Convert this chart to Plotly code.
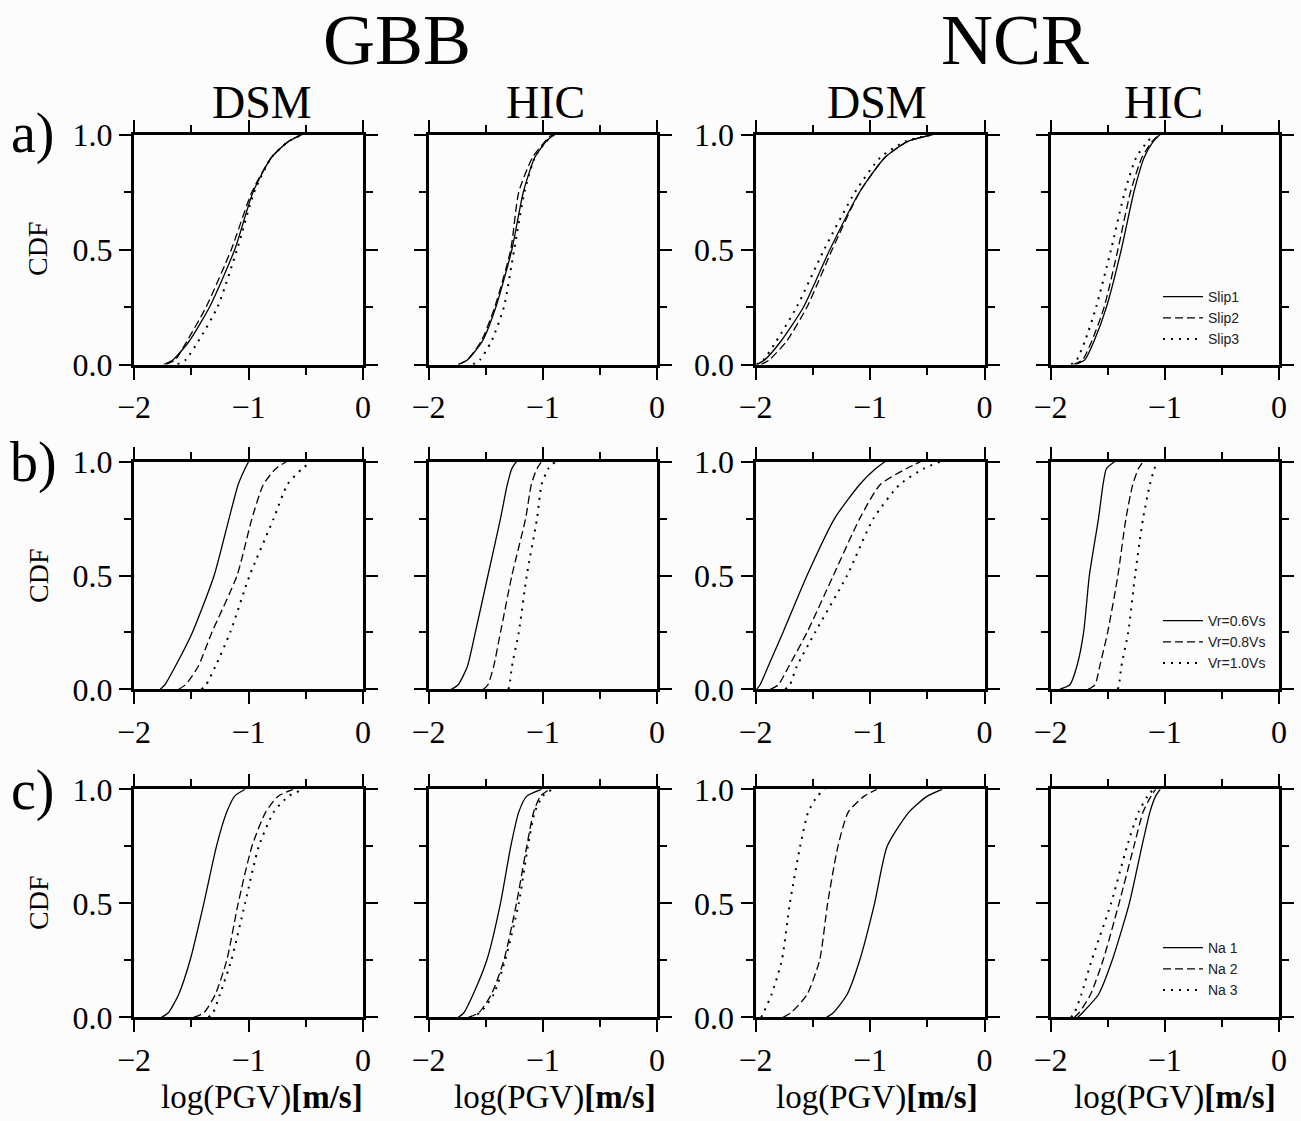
import plotly.graph_objects as go
from plotly.subplots import make_subplots

# ---------------- data ----------------
CDF_LEVELS = [0.0, 0.02, 0.1, 0.25, 0.5, 0.75, 0.9, 0.97, 1.0]

SITES = ["GBB", "NCR"]
METHODS = ["DSM", "HIC"]
ROW_LABELS = ["a)", "b)", "c)"]
X_TICKS = [-2, -1, 0]
X_TICK_TEXT = ["\u22122", "\u22121", "0"]
Y_TICKS = [0.0, 0.5, 1.0]
Y_TICK_TEXT = ["0.0", "0.5", "1.0"]
X_TITLE = "log(PGV)<b>[m/s]</b>"
Y_TITLE = "CDF"

SLIP_NAMES = ["Slip1", "Slip2", "Slip3"]
VR_NAMES = ["Vr=0.6Vs", "Vr=0.8Vs", "Vr=1.0Vs"]
NA_NAMES = ["Na 1", "Na 2", "Na 3"]

# log(PGV) values at each CDF level (row a: slip models)
slip_gbb_dsm = [
    [-1.74, -1.66, -1.52, -1.34, -1.12, -0.96, -0.80, -0.65, -0.53],
    [-1.72, -1.64, -1.54, -1.37, -1.15, -0.97, -0.80, -0.65, -0.53],
    [-1.62, -1.55, -1.44, -1.27, -1.10, -0.95, -0.80, -0.65, -0.53],
]
slip_gbb_hic = [
    [-1.74, -1.66, -1.53, -1.41, -1.27, -1.17, -1.07, -0.97, -0.90],
    [-1.74, -1.66, -1.54, -1.42, -1.28, -1.21, -1.09, -0.98, -0.92],
    [-1.61, -1.55, -1.45, -1.34, -1.25, -1.16, -1.07, -0.97, -0.90],
]
slip_ncr_dsm = [
    [-1.99, -1.92, -1.78, -1.58, -1.35, -1.09, -0.87, -0.67, -0.45],
    [-1.95, -1.88, -1.73, -1.55, -1.33, -1.09, -0.87, -0.67, -0.45],
    [-1.99, -1.93, -1.82, -1.64, -1.40, -1.13, -0.91, -0.69, -0.45],
]
slip_ncr_hic = [
    [-1.78, -1.70, -1.62, -1.51, -1.38, -1.27, -1.18, -1.10, -1.04],
    [-1.80, -1.72, -1.64, -1.53, -1.41, -1.30, -1.20, -1.11, -1.05],
    [-1.82, -1.77, -1.70, -1.60, -1.47, -1.35, -1.25, -1.15, -1.09],
]

# row b: rupture velocity
vr_gbb_dsm = [
    [-1.77, -1.73, -1.64, -1.49, -1.30, -1.17, -1.09, -1.03, -1.00],
    [-1.61, -1.55, -1.44, -1.32, -1.10, -0.97, -0.87, -0.76, -0.67],
    [-1.41, -1.37, -1.29, -1.16, -0.99, -0.78, -0.66, -0.53, -0.45],
]
vr_gbb_hic = [
    [-1.80, -1.74, -1.66, -1.59, -1.48, -1.37, -1.31, -1.27, -1.23],
    [-1.52, -1.48, -1.43, -1.37, -1.27, -1.15, -1.10, -1.05, -1.01],
    [-1.30, -1.29, -1.27, -1.21, -1.14, -1.05, -1.01, -0.95, -0.89],
]
vr_ncr_dsm = [
    [-1.99, -1.96, -1.89, -1.76, -1.55, -1.31, -1.09, -0.95, -0.87],
    [-1.87, -1.80, -1.71, -1.55, -1.32, -1.09, -0.91, -0.68, -0.56],
    [-1.74, -1.70, -1.64, -1.48, -1.20, -0.97, -0.74, -0.53, -0.39],
]
vr_ncr_hic = [
    [-1.92, -1.83, -1.77, -1.71, -1.66, -1.58, -1.54, -1.51, -1.44],
    [-1.67, -1.61, -1.57, -1.50, -1.41, -1.34, -1.28, -1.23, -1.19],
    [-1.41, -1.40, -1.38, -1.32, -1.26, -1.19, -1.13, -1.09, -1.06],
]

# row c: asperity number
na_gbb_dsm = [
    [-1.76, -1.70, -1.61, -1.51, -1.39, -1.28, -1.19, -1.12, -1.03],
    [-1.48, -1.39, -1.29, -1.19, -1.09, -0.97, -0.85, -0.74, -0.61],
    [-1.35, -1.31, -1.25, -1.15, -1.03, -0.91, -0.78, -0.65, -0.52],
]
na_gbb_hic = [
    [-1.74, -1.69, -1.61, -1.49, -1.37, -1.28, -1.21, -1.14, -1.01],
    [-1.65, -1.56, -1.45, -1.34, -1.23, -1.14, -1.08, -1.02, -0.94],
    [-1.64, -1.55, -1.43, -1.33, -1.21, -1.13, -1.07, -1.00, -0.92],
]
na_ncr_dsm = [
    [-1.38, -1.32, -1.20, -1.09, -0.96, -0.85, -0.66, -0.50, -0.37],
    [-1.76, -1.69, -1.55, -1.44, -1.37, -1.28, -1.19, -1.05, -0.94],
    [-1.95, -1.93, -1.86, -1.77, -1.70, -1.61, -1.54, -1.46, -1.39],
]
na_ncr_hic = [
    [-1.76, -1.72, -1.58, -1.46, -1.31, -1.20, -1.13, -1.08, -1.04],
    [-1.79, -1.75, -1.65, -1.54, -1.40, -1.27, -1.19, -1.12, -1.08],
    [-1.82, -1.79, -1.73, -1.64, -1.47, -1.33, -1.23, -1.15, -1.10],
]

ROWS = [
    (SLIP_NAMES, [slip_gbb_dsm, slip_gbb_hic, slip_ncr_dsm, slip_ncr_hic]),
    (VR_NAMES, [vr_gbb_dsm, vr_gbb_hic, vr_ncr_dsm, vr_ncr_hic]),
    (NA_NAMES, [na_gbb_dsm, na_gbb_hic, na_ncr_dsm, na_ncr_hic]),
]

# ---------------- layout ----------------
W, H = 1301, 1121
SERIF = "Liberation Serif, Times New Roman, serif"
SANS = "Liberation Sans, Arial, sans-serif"
BG = "#fcfcfc"

COL_PX = [(134, 363), (428.5, 657), (755.5, 984.5), (1050.5, 1279)]
ROW_PX = [(134.5, 364.5), (461.7, 689.3), (789.3, 1017.3)]
DASHES = ["solid", "8px,4px", "2px,6px"]
WIDTHS = [1.3, 1.3, 2.0]
LEGEND_IDS = ["legend", "legend2", "legend3"]
LEGEND_TOP_PX = [281, 605, 932]

fig = make_subplots(rows=3, cols=4)

for r, (names, panels) in enumerate(ROWS):
    for c, series in enumerate(panels):
        for k, xs in enumerate(series):
            fig.add_trace(
                go.Scatter(
                    x=xs, y=CDF_LEVELS, mode="lines", name=names[k],
                    line=dict(color="black", width=WIDTHS[k], dash=DASHES[k],
                              shape="spline", smoothing=0.6),
                    showlegend=(c == 3), legend=LEGEND_IDS[r],
                    hoverinfo="skip",
                ),
                row=r + 1, col=c + 1,
            )
        x0, x1 = COL_PX[c]
        y0, y1 = ROW_PX[r]
        fig.update_xaxes(
            domain=[x0 / W, x1 / W], range=[-2, 0], automargin=False,
            tickvals=X_TICKS, ticktext=X_TICK_TEXT,
            ticks="outside", ticklen=12, tickwidth=1.5, tickcolor="black",
            minor=dict(tickvals=[-1.5, -0.5], ticks="outside", ticklen=7,
                       tickwidth=1.5, tickcolor="black"),
            showline=True, linewidth=3, linecolor="black", mirror="ticks",
            showgrid=False, zeroline=False,
            tickfont=dict(family=SERIF, size=32, color="black"),
            row=r + 1, col=c + 1,
        )
        fig.update_yaxes(
            domain=[1 - y1 / H, 1 - y0 / H], range=[0, 1], automargin=False,
            tickvals=Y_TICKS, ticktext=Y_TICK_TEXT,
            showticklabels=(c % 2 == 0),
            ticks="outside", ticklen=12, tickwidth=1.5, tickcolor="black",
            minor=dict(tickvals=[0.25, 0.75], ticks="outside", ticklen=7,
                       tickwidth=1.5, tickcolor="black"),
            showline=True, linewidth=3, linecolor="black", mirror="ticks",
            showgrid=False, zeroline=False,
            tickfont=dict(family=SERIF, size=32, color="black"),
            row=r + 1, col=c + 1,
        )

annotations = []


def ann(text, px, py, size, **kw):
    annotations.append(dict(
        text=text, x=px / W, y=1 - py / H, xref="paper", yref="paper",
        showarrow=False, xanchor="center", yanchor="middle",
        font=dict(family=SERIF, size=size, color="black"), **kw))


# site titles
ann(SITES[0], 397, 40, 72)
ann(SITES[1], 1015, 40, 72)
# method titles
for c, cx in enumerate([262, 545, 877, 1163]):
    ann(METHODS[c % 2], cx, 103, 46)
# row labels and CDF
for r, (ly, cy) in enumerate([(133, 249), (463, 576), (790, 903)]):
    ann(ROW_LABELS[r], 33, ly, 56)
    ann(Y_TITLE, 38, cy, 28, textangle=-90)
# x titles
for cx in [262, 555, 877, 1175]:
    ann(X_TITLE, cx, 1097, 33)

layout_legends = {}
for r, lid in enumerate(LEGEND_IDS):
    layout_legends[lid] = dict(
        x=1158 / W, y=1 - LEGEND_TOP_PX[r] / H, xanchor="left", yanchor="top",
        bgcolor="rgba(0,0,0,0)", borderwidth=0,
        font=dict(family=SANS, size=14, color="#222"),
        itemwidth=40, tracegroupgap=0,
    )

fig.update_layout(
    width=W, height=H, margin=dict(l=0, r=0, t=0, b=0, autoexpand=False),
    paper_bgcolor=BG, plot_bgcolor=BG,
    annotations=annotations,
    **layout_legends,
)

fig.write_html(
    "out.html",
    config={"displayModeBar": False},
    post_script="document.body.style.margin='0';document.body.style.padding='0';",
)
